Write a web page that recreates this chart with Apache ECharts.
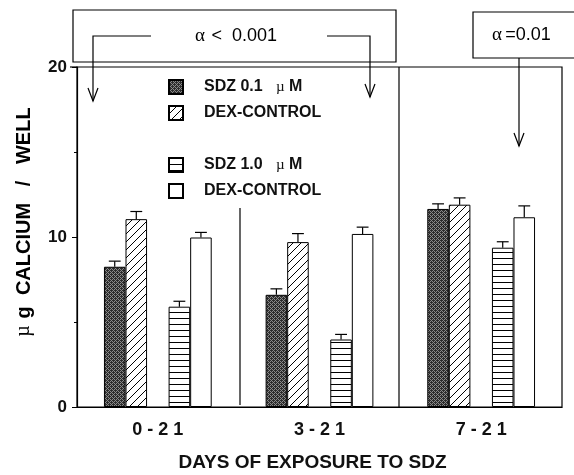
<!DOCTYPE html>
<html><head><meta charset="utf-8">
<script src="https://cdn.jsdelivr.net/npm/echarts@6/dist/echarts.min.js"></script>
<style>html,body{margin:0;padding:0;background:#fff}#c{width:574px;height:475px}</style>
</head><body><div id="c"></div>
<script>
// ---- data ----
const categories = ['0-21', '3-21', '7-21'];
const sdz01 = [8.25, 6.6, 11.65];
const sdz01Err = [0.33, 0.35, 0.3];
const dex01 = [11.05, 9.7, 11.9];
const dex01Err = [0.45, 0.5, 0.4];
const sdz10 = [5.9, 3.97, 9.37];
const sdz10Err = [0.32, 0.3, 0.35];
const dex10 = [9.97, 10.18, 11.16];
const dex10Err = [0.3, 0.4, 0.67];
const yTicks = [0, 10, 20];
const seriesNames = ['SDZ 0.1 µM', 'DEX-CONTROL (0.1)', 'SDZ 1.0 µM', 'DEX-CONTROL (1.0)'];

// ---- patterns ----
function pat(w, h, draw) {
  const c = document.createElement('canvas'); c.width = w; c.height = h;
  const g = c.getContext('2d'); draw(g, w, h);
  return { image: c, repeat: 'repeat' };
}
const stipple = pat(4, 4, (g) => {
  g.fillStyle = '#8a8a8a'; g.fillRect(0, 0, 4, 4);
  g.fillStyle = '#2c2c2c';
  [[0,0],[2,0],[1,1],[3,1],[0,2],[2,2],[1,3],[3,3],[1,0],[3,2]].forEach(p => g.fillRect(p[0], p[1], 1, 1));
});
const hatch = pat(8, 8, (g) => {
  g.fillStyle = '#fff'; g.fillRect(0, 0, 8, 8);
  g.strokeStyle = '#000'; g.lineWidth = 1;
  g.beginPath();
  g.moveTo(0, 8); g.lineTo(8, 0);
  g.moveTo(-1, 1); g.lineTo(1, -1);
  g.moveTo(7, 9); g.lineTo(9, 7);
  g.stroke();
});
const stripes = pat(4, 6, (g) => {
  g.fillStyle = '#fff'; g.fillRect(0, 0, 4, 6);
  g.fillStyle = '#000'; g.fillRect(0, 0, 4, 1);
});

const BAR_FRAC = 0.1333;
const SANS = 'Liberation Sans';
const SERIF = 'Liberation Serif';

function barSeries(name, data, fill) {
  return {
    name, type: 'bar', data, barWidth: (BAR_FRAC * 100) + '%', barGap: '0%',
    itemStyle: { color: fill, borderColor: '#000', borderWidth: 1 },
    emphasis: { disabled: true }, z: 2
  };
}
function errSeries(vals, errs, slot) {
  return {
    type: 'custom', z: 3, silent: true,
    data: vals.map((v, i) => [i, v, errs[i]]),
    renderItem: (params, api) => {
      const band = api.size([1, 0])[0];
      const bw = band * BAR_FRAC;
      const b = api.coord([api.value(0), api.value(1)]);
      const t = api.coord([api.value(0), api.value(1) + api.value(2)]);
      const x = b[0] + (slot - 2) * bw;
      const cw = bw * 0.55;
      return { type: 'group', children: [
        { type: 'line', shape: { x1: x, y1: b[1], x2: x, y2: t[1] }, style: { stroke: '#000', lineWidth: 1.2 } },
        { type: 'line', shape: { x1: x - cw / 2, y1: t[1], x2: x + cw / 2, y2: t[1] }, style: { stroke: '#000', lineWidth: 1.2 } }
      ]};
    }
  };
}

const legendRich = {
  p: { width: 16 },
  b: { fontFamily: SANS, fontWeight: 'bold', fontSize: 16, color: '#111', lineHeight: 16 },
  m: { fontFamily: SERIF, fontWeight: 'normal', fontSize: 15, color: '#111', lineHeight: 16 }
};
function legendFmt(name) {
  if (name.indexOf('DEX-CONTROL') === 0) return '{p| }{b|DEX-CONTROL}';
  const parts = name.split(' '); // SDZ, 0.1, µM
  return '{p| }{b|' + parts[0] + ' ' + parts[1] + '}   {m|µ} {b|M}';
}
function legend(top, data) {
  return {
    data, orient: 'vertical', left: 163, top, itemWidth: 14, itemHeight: 14, itemGap: 10,
    icon: 'rect', selectedMode: false, formatter: legendFmt,
    textStyle: { rich: legendRich, fontFamily: SANS, fontWeight: 'bold', fontSize: 16 }
  };
}

function vArrow(x, tip) {
  return { type: 'polyline', shape: { points: [[x - 5, tip - 13], [x, tip], [x + 5, tip - 13]] }, style: { stroke: '#000', lineWidth: 1.2, fill: null } };
}
const annRich = {
  a: { fontFamily: SERIF, fontSize: 19, color: '#111' },
  t: { fontFamily: SANS, fontSize: 18, color: '#111' }
};

const chart = echarts.init(document.getElementById('c'), null, { renderer: 'canvas' });
chart.setOption({
  animation: false,
  backgroundColor: '#fff',
  grid: { left: 77, right: 12, top: 67, bottom: 68, outerBoundsMode: 'none', containLabel: false,
    show: true, borderColor: '#000', borderWidth: 1.2, backgroundColor: 'transparent' },
  legend: [legend(74, [seriesNames[0], seriesNames[1]]), legend(152, [seriesNames[2], seriesNames[3]])],
  xAxis: {
    type: 'category', data: categories,
    axisLine: { lineStyle: { color: '#000', width: 1.2 } },
    axisTick: { inside: true, length: 4, lineStyle: { color: '#000' } },
    axisLabel: { formatter: s => s.split('').join(' '), fontFamily: SANS, fontWeight: 'bold', fontSize: 18, color: '#111', margin: 14 },
    name: 'DAYS OF EXPOSURE TO SDZ', nameLocation: 'middle', nameGap: 46,
    nameTextStyle: { fontFamily: SANS, fontWeight: 'bold', fontSize: 19, color: '#111', padding: [0, 14, 0, 0] }
  },
  yAxis: {
    type: 'value', min: yTicks[0], max: yTicks[yTicks.length - 1], interval: yTicks[1] - yTicks[0],
    axisLine: { show: true, lineStyle: { color: '#000', width: 1.2 } },
    axisTick: { show: true, length: 5, lineStyle: { color: '#000' } },
    minorTick: { show: true, splitNumber: 2, length: 3, lineStyle: { color: '#000' } },
    splitLine: { show: false },
    axisLabel: { fontFamily: SANS, fontWeight: 'bold', fontSize: 17, color: '#111', margin: 10 }
  },
  series: [
    barSeries(seriesNames[0], sdz01, stipple),
    barSeries(seriesNames[1], dex01, hatch),
    { type: 'bar', name: '_gap', data: ['-', '-', '-'], barWidth: (BAR_FRAC * 100) + '%', barGap: '0%' },
    barSeries(seriesNames[2], sdz10, stripes),
    barSeries(seriesNames[3], dex10, '#fff'),
    errSeries(sdz01, sdz01Err, 0),
    errSeries(dex01, dex01Err, 1),
    errSeries(sdz10, sdz10Err, 3),
    errSeries(dex10, dex10Err, 4)
  ],
  graphic: [
    { type: 'text', x: 24, y: 222, rotation: Math.PI / 2,
      style: { text: '{m|µ}  {b|g  CALCIUM   /   WELL}', align: 'center', verticalAlign: 'middle',
        rich: { m: { fontFamily: SERIF, fontSize: 20, color: '#111' }, b: { fontFamily: SANS, fontWeight: 'bold', fontSize: 20, color: '#111' } } } },
    { type: 'rect', shape: { x: 73, y: 10, width: 323, height: 52 }, style: { fill: null, stroke: '#000', lineWidth: 1.2 } },
    { type: 'text', x: 236, y: 36, style: { text: '{a|α}  {t|<  0.001}', align: 'center', verticalAlign: 'middle', rich: annRich } },
    { type: 'polyline', shape: { points: [[151, 36], [93, 36], [93, 101]] }, style: { stroke: '#000', lineWidth: 1.2, fill: null } },
    vArrow(93, 101),
    { type: 'polyline', shape: { points: [[327, 36], [370, 36], [370, 97]] }, style: { stroke: '#000', lineWidth: 1.2, fill: null } },
    vArrow(370, 97),
    { type: 'rect', shape: { x: 473, y: 12, width: 110, height: 46 }, style: { fill: null, stroke: '#000', lineWidth: 1.2 } },
    { type: 'text', x: 492, y: 35, style: { text: '{a|α} {t|=0.01}', align: 'left', verticalAlign: 'middle', rich: annRich } },
    { type: 'line', shape: { x1: 519, y1: 58, x2: 519, y2: 146 }, style: { stroke: '#000', lineWidth: 1.2 } },
    vArrow(519, 146),
    { type: 'line', shape: { x1: 399, y1: 67, x2: 399, y2: 407 }, style: { stroke: '#000', lineWidth: 1.2 } },
    { type: 'line', shape: { x1: 240, y1: 208, x2: 240, y2: 405 }, style: { stroke: '#000', lineWidth: 1.2 } },
    { type: 'line', shape: { x1: 70, y1: 67, x2: 77, y2: 67 }, style: { stroke: '#000', lineWidth: 1.2 } }
  ]
});
</script></body></html>
